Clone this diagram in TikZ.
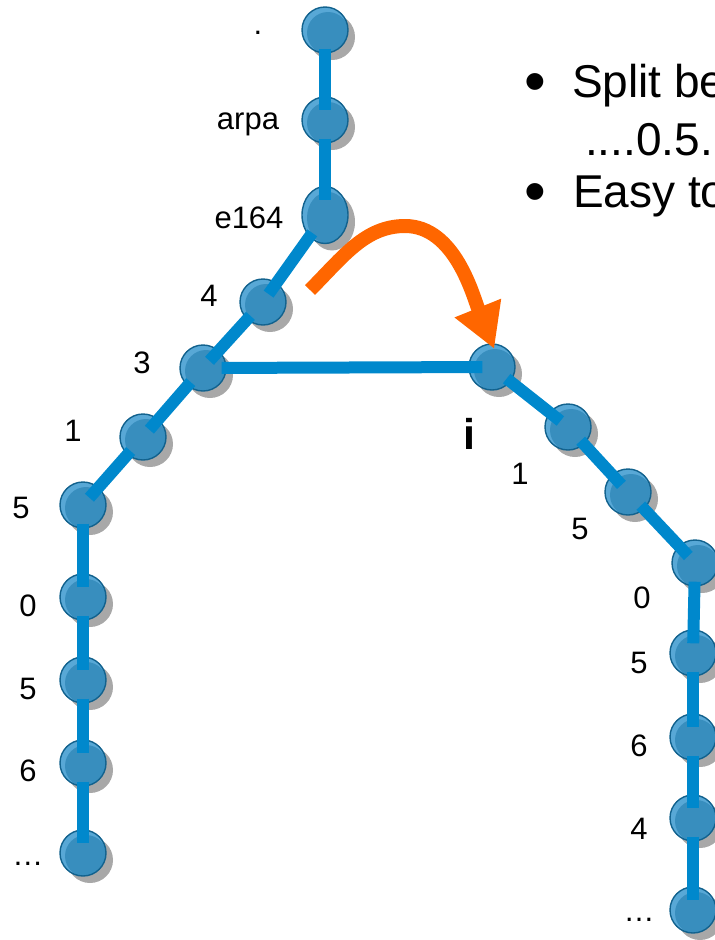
\documentclass[tikz,border=0pt]{standalone}
\usepackage{fontspec}
\setmainfont{Liberation Sans}
\usetikzlibrary{arrows.meta,shadows,shapes.geometric}
\definecolor{linkblue}{RGB}{0,136,204}
\definecolor{balllight}{RGB}{88,168,214}
\definecolor{balldark}{RGB}{56,142,190}
\definecolor{ballrim}{RGB}{18,98,142}
\definecolor{shadowgray}{RGB}{168,168,168}
\definecolor{swingorange}{RGB}{255,102,0}
\tikzset{
	ball ry/.initial=21pt,
	ball/.style={ellipse,draw=ballrim,line width=1.4pt,fill=balllight,minimum width=46pt,minimum height=46pt,inner sep=0pt,
		drop shadow={shadow xshift=7pt,shadow yshift=-7pt,fill=shadowgray,opacity=1},
		path picture={\fill[balldark] ([xshift=3pt,yshift=-3pt]path picture bounding box.center) ellipse [x radius=21pt,y radius=\pgfkeysvalueof{/tikz/ball ry}];}},
	link/.style={draw=linkblue,line width=12pt,shorten <=-5pt,shorten >=-14pt},
	swing/.style={draw=swingorange,line width=14pt,-{Triangle[length=44pt,width=47pt]},shorten >=-6pt},
	lbl/.style={anchor=base,inner sep=0pt,font=\fontsize{31}{37}\selectfont},
	bullettext/.style={anchor=base west,inner sep=0pt,font=\fontsize{46}{55}\selectfont},
	bulletmark/.style={anchor=base,inner sep=0pt,font=\fontsize{62}{70}\selectfont}
}
\begin{document}
\begin{tikzpicture}[x=1pt,y=-1pt]
	\useasboundingbox (0,0) rectangle (715,940);
	\clip (0,0) rectangle (715,940);
	\node[ball] (root) at (325,30) {};
	\node[ball] (arpa) at (325,120) {};
	\node[ball,minimum height=57pt,ball ry=26pt] (e164) at (325,215) {};
	\node[ball] (four) at (263,302) {};
	\node[ball] (three) at (203,368) {};
	\node[ball] (one) at (143,437) {};
	\node[ball] (five) at (83,505) {};
	\node[ball] (zero) at (83,597) {};
	\node[ball] (fiveb) at (83,680) {};
	\node[ball] (six) at (83,763) {};
	\node[ball] (more) at (83,853) {};
	\node[ball] (ni) at (492,367) {};
	\node[ball] (rone) at (568,427) {};
	\node[ball] (rfive) at (628,492) {};
	\node[ball] (rzero) at (695,563) {};
	\node[ball] (rfiveb) at (693,653) {};
	\node[ball] (rsix) at (693,737) {};
	\node[ball] (rfour) at (693,818) {};
	\node[ball] (rmore) at (693,910) {};
	\node[lbl] (lblroot) at (258,34) {.};
	\node[lbl] (lblarpa) at (248,129) {arpa};
	\node[lbl] (lble) at (249,228) {e164};
	\node[lbl] (lblfour) at (209,306) {4};
	\node[lbl] (lblthree) at (142,373) {3};
	\node[lbl] (lblone) at (73,441) {1};
	\node[lbl] (lblfive) at (21,518) {5};
	\node[lbl] (lblzero) at (28,616) {0};
	\node[lbl] (lblfiveb) at (28,699) {5};
	\node[lbl] (lblsix) at (28,781) {6};
	\node[lbl] (lblmore) at (28,865) {…};
	\node[lbl,font=\fontsize{43}{50}\selectfont\bfseries] (lbli) at (469,449) {i};
	\node[lbl] (lblrone) at (520,484) {1};
	\node[lbl] (lblrfive) at (580,539) {5};
	\node[lbl] (lblrzero) at (642,608) {0};
	\node[lbl] (lblrfiveb) at (639,673) {5};
	\node[lbl] (lblrsix) at (639,756) {6};
	\node[lbl] (lblrfour) at (639,839) {4};
	\node[lbl] (lblrmore) at (639,921) {…};
	\path[link] (root) to (arpa);
	\path[link] (arpa) to (e164);
	\path[link] (e164) to (four);
	\path[link] (four) to (three);
	\path[link] (three) to (one);
	\path[link] (one) to (five);
	\path[link] (five) to (zero);
	\path[link] (zero) to (fiveb);
	\path[link] (fiveb) to (six);
	\path[link] (six) to (more);
	\path[link] (three) to (ni);
	\path[link] (ni) to (rone);
	\path[link] (rone) to (rfive);
	\path[link] (rfive) to (rzero);
	\path[link] (rzero) to (rfiveb);
	\path[link] (rfiveb) to (rsix);
	\path[link] (rsix) to (rfour);
	\path[link] (rfour) to (rmore);
	\coordinate (swingtail) at (310,290);
	\coordinate (swingtop) at (405,226);
	\path[swing] (swingtail) .. controls (343,257) and (365,226) .. (swingtop) .. controls (455,226) and (473,296) .. (ni.north);
	\node[bulletmark] (bulletone) at (535,102) {•};
	\node[bullettext] (split) at (572,97) {Split be};
	\node[bullettext] (digits) at (585,155) {....0.5.};
	\node[bulletmark] (bullettwo) at (535,212) {•};
	\node[bullettext] (easy) at (573,207) {Easy to};
\end{tikzpicture}
\end{document}
